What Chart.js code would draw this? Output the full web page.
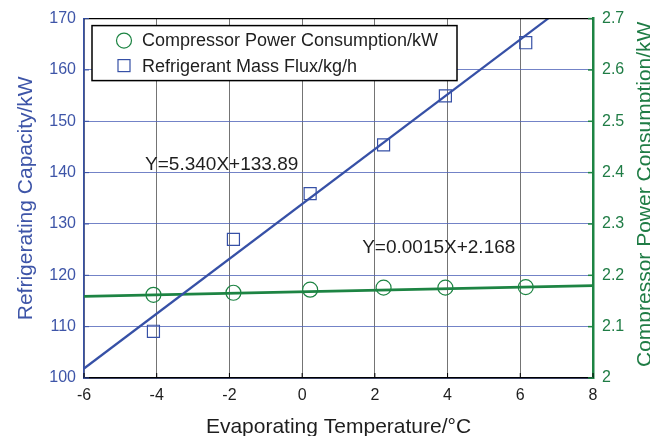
<!DOCTYPE html>
<html><head><meta charset="utf-8">
<script src="https://cdn.jsdelivr.net/npm/chart.js@4"></script>
<style>html,body{margin:0;padding:0;background:#fff}#wrap{width:650px;height:436px}</style>
</head><body><div id="wrap"><canvas id="c" width="650" height="436"></canvas></div>
<script>
// ---- data ----
const temps    = [-4.09, -1.89, 0.22, 2.24, 3.94, 6.15];
const capacity = [109.1, 127.0, 135.9, 145.4, 154.95, 165.3];
const power    = [2.162, 2.166, 2.172, 2.176, 2.176, 2.177];
// fitted lines as printed on the chart (end points at x = -6 and x = 8)
const fitX     = [-6, 8];
const capFitY  = [101.85, 176.61];
const powFitY  = [2.159, 2.180];
// axes
const xTicks     = [-6, -4, -2, 0, 2, 4, 6, 8];
const leftTicks  = [100, 110, 120, 130, 140, 150, 160, 170];
const rightTicks = [2, 2.1, 2.2, 2.3, 2.4, 2.5, 2.6, 2.7];
// texts
const xTitle = 'Evaporating Temperature/°C';
const yLeftTitle = 'Refrigerating Capacity/kW';
const yRightTitle = 'Compressor Power Consumption/kW';
const seriesNames = ['Compressor Power Consumption/kW', 'Refrigerant Mass Flux/kg/h'];
const equations = ['Y=5.340X+133.89', 'Y=0.0015X+2.168'];
const eqPos = [[-4.32, 141.55], [1.65, 125.3]]; // left edge x, middle y (left axis units)

const BLUE = '#3650a6', GREEN = '#1d8443', BLUE_T = '#3e55a8', GREEN_T = '#1f7c45', INK = '#1e1e1e';
const FONT = '"Liberation Sans", Arial, Helvetica, sans-serif';

const toPts = (xs, ys) => xs.map((x, i) => ({x, y: ys[i]}));

const extras = {
  id: 'extras',
  afterDatasetsDraw(chart) {
    const ctx = chart.ctx, a = chart.chartArea;
    const sx = chart.scales.x, sl = chart.scales.yL, sr = chart.scales.yR;
    ctx.save();
    // top border
    ctx.strokeStyle = '#000'; ctx.lineWidth = 1.2;
    ctx.beginPath(); ctx.moveTo(a.left, a.top); ctx.lineTo(a.right, a.top); ctx.stroke();
    // inward ticks
    ctx.lineWidth = 1;
    xTicks.forEach(v => { const p = sx.getPixelForValue(v); ctx.strokeStyle = '#000';
      ctx.beginPath(); ctx.moveTo(p, a.bottom); ctx.lineTo(p, a.bottom - 5); ctx.stroke(); });
    leftTicks.forEach(v => { const p = sl.getPixelForValue(v); ctx.strokeStyle = BLUE;
      ctx.beginPath(); ctx.moveTo(a.left, p); ctx.lineTo(a.left + 5, p); ctx.stroke(); });
    ctx.lineWidth = 1.5;
    rightTicks.forEach(v => { const p = sr.getPixelForValue(v); ctx.strokeStyle = GREEN;
      ctx.beginPath(); ctx.moveTo(a.right, p); ctx.lineTo(a.right - 5, p); ctx.stroke(); });
    // equations
    ctx.fillStyle = INK; ctx.font = '19px ' + FONT; ctx.textBaseline = 'middle'; ctx.textAlign = 'left';
    equations.forEach((t, i) => {
      ctx.fillText(t, sx.getPixelForValue(eqPos[i][0]), sl.getPixelForValue(eqPos[i][1]));
    });
    // legend box
    const lx = a.left + 8, ly = a.top + 7, lw = 365, lh = 55;
    ctx.fillStyle = '#fff'; ctx.fillRect(lx, ly, lw, lh);
    ctx.strokeStyle = '#000'; ctx.lineWidth = 1.5; ctx.strokeRect(lx, ly, lw, lh);
    const mx = lx + 32;
    ctx.strokeStyle = GREEN; ctx.lineWidth = 1.2;
    ctx.beginPath(); ctx.arc(mx, ly + 15, 7.5, 0, Math.PI * 2); ctx.stroke();
    ctx.strokeStyle = BLUE; ctx.strokeRect(mx - 6, ly + 40 - 6, 12, 12);
    ctx.fillStyle = INK; ctx.font = '18px ' + FONT; ctx.textBaseline = 'middle';
    ctx.fillText(seriesNames[0], lx + 50, ly + 15);
    ctx.fillText(seriesNames[1], lx + 50, ly + 41);
    ctx.restore();
  },
  afterDraw(chart) {
    const ctx = chart.ctx, a = chart.chartArea;
    ctx.save();
    ctx.font = '21px ' + FONT; ctx.textAlign = 'center'; ctx.textBaseline = 'alphabetic';
    // x title
    ctx.fillStyle = INK; ctx.fillText(xTitle, (a.left + a.right) / 2, 433);
    // left title
    ctx.save(); ctx.translate(31.5, (a.top + a.bottom) / 2); ctx.rotate(-Math.PI / 2);
    ctx.fillStyle = BLUE_T; ctx.fillText(yLeftTitle, 0, 0); ctx.restore();
    // right title (reads bottom to top, partly cut at the edge)
    ctx.save(); ctx.translate(650.5, (a.top + a.bottom) / 2 - 4); ctx.rotate(-Math.PI / 2);
    ctx.fillStyle = GREEN_T; ctx.fillText(yRightTitle, 0, 0); ctx.restore();
    ctx.restore();
  }
};

new Chart(document.getElementById('c'), {
  type: 'scatter',
  data: {
    datasets: [
      { label: seriesNames[0], data: toPts(temps, power), yAxisID: 'yR', showLine: false,
        pointStyle: 'circle', pointRadius: 7.5, pointBorderWidth: 1.2, pointBorderColor: GREEN,
        pointBackgroundColor: 'rgba(0,0,0,0)', order: 1 },
      { label: seriesNames[1], data: toPts(temps, capacity), yAxisID: 'yL', showLine: false,
        pointStyle: 'rect', pointRadius: 8.5, pointBorderWidth: 1.2, pointBorderColor: BLUE,
        pointBackgroundColor: 'rgba(0,0,0,0)', order: 2 },
      { label: 'fitCap', data: toPts(fitX, capFitY), yAxisID: 'yL', showLine: true,
        borderColor: BLUE, borderWidth: 2.2, pointRadius: 0, order: 3 },
      { label: 'fitPow', data: toPts(fitX, powFitY), yAxisID: 'yR', showLine: true,
        borderColor: GREEN, borderWidth: 2.6, pointRadius: 0, order: 4 }
    ]
  },
  options: {
    responsive: false, animation: false, devicePixelRatio: 1,
    layout: { padding: { top: 18, left: 0, right: 0, bottom: 0 } },
    plugins: { legend: { display: false }, tooltip: { enabled: false } },
    scales: {
      x: { type: 'linear', min: -6, max: 8,
        afterBuildTicks: s => { s.ticks = xTicks.map(v => ({value: v})); },
        afterFit: s => { s.height = 58; },
        ticks: { color: INK, font: { size: 16, family: FONT }, padding: 8 },
        grid: { color: 'rgba(70,70,70,0.75)', lineWidth: 1, drawTicks: false },
        border: { color: '#000', width: 1.5 } },
      yL: { type: 'linear', position: 'left', min: 100, max: 170,
        afterBuildTicks: s => { s.ticks = leftTicks.map(v => ({value: v})); },
        afterFit: s => { s.width = 84; },
        ticks: { color: BLUE_T, font: { size: 16, family: FONT }, padding: 8 },
        grid: { color: 'rgba(80,100,185,0.8)', lineWidth: 1, drawTicks: false },
        border: { color: BLUE, width: 1.5 } },
      yR: { type: 'linear', position: 'right', min: 2, max: 2.7,
        afterBuildTicks: s => { s.ticks = rightTicks.map(v => ({value: v})); },
        afterFit: s => { s.width = 57; },
        ticks: { color: GREEN_T, font: { size: 16, family: FONT }, padding: 9,
          callback: v => String(Math.round(v * 10) / 10) },
        grid: { drawOnChartArea: false, drawTicks: false },
        border: { color: GREEN, width: 2.5 } }
    }
  },
  plugins: [extras]
});
</script>
</body></html>
